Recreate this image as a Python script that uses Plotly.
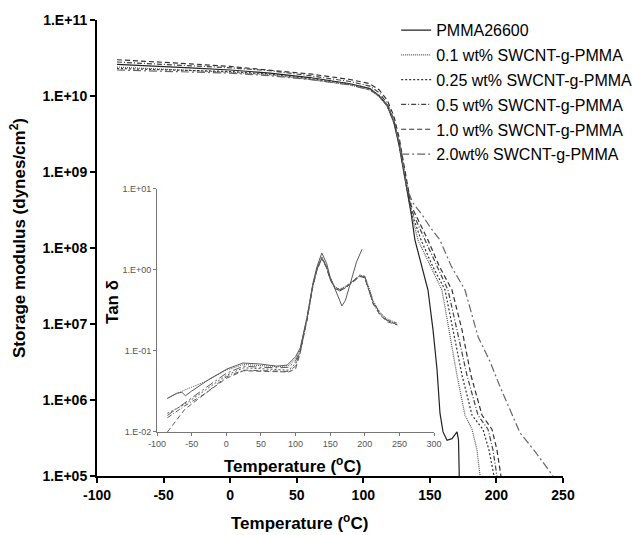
import plotly.graph_objects as go

# ---------------- data: storage modulus (main plot) ----------------
series_names = ["PMMA26600", "0.1 wt% SWCNT-g-PMMA", "0.25 wt% SWCNT-g-PMMA",
                "0.5 wt% SWCNT-g-PMMA", "1.0 wt% SWCNT-g-PMMA", "2.0wt% SWCNT-g-PMMA"]

T_pmma = [-85, -60, -30, 0, 30, 60, 90, 105, 112, 118, 123, 127, 130, 133, 136, 138.8, 143, 148.6,
          152.4, 155.4, 157.6, 159.9, 162.9, 166.6, 170.4, 171.5, 172.0, 172.3]
E_pmma = [2.6e10, 2.5e10, 2.35e10, 2.2e10, 2.0e10, 1.75e10, 1.45e10, 1.25e10, 1.0e10, 7.5e9, 4.5e9,
          2.2e9, 1.1e9, 5.5e8, 2.8e8, 1.27e8, 6.5e7, 2.8e7, 8.3e6, 2.5e6, 6.7e5, 3.8e5, 2.95e5,
          3.1e5, 3.8e5, 3.0e5, 1.2e5, 5e4]

T_01 = [-85, -60, -30, 0, 30, 60, 90, 105, 112, 118, 123, 127, 130, 133, 136, 141.1, 150, 159.1,
        164.4, 170.4, 176.4, 181.7, 185.4, 187.7]
E_01 = [2.4e10, 2.3e10, 2.2e10, 2.05e10, 1.9e10, 1.65e10, 1.4e10, 1.2e10, 9.8e9, 7.3e9, 4.4e9,
        2.2e9, 1.1e9, 5.5e8, 2.9e8, 1.27e8, 6.0e7, 2.8e7, 8.3e6, 2.1e6, 6.3e5, 4.1e5, 2.2e5, 1e5]

T_025 = [-85, -60, -30, 0, 30, 60, 90, 105, 112, 118, 123, 127, 130, 133, 136, 143.4, 152, 161.4,
         167.4, 174.2, 181.7, 189.9, 194.4, 198.2]
E_025 = [2.3e10, 2.25e10, 2.15e10, 2.1e10, 1.95e10, 1.7e10, 1.45e10, 1.25e10, 1.0e10, 7.6e9, 4.6e9,
         2.3e9, 1.15e9, 5.8e8, 3.0e8, 1.27e8, 5.8e7, 2.8e7, 8.3e6, 2.1e6, 6.3e5, 4.1e5, 2.2e5, 1e5]

T_05 = [-85, -60, -30, 0, 30, 60, 90, 105, 112, 118, 123, 127, 130, 133, 136, 146.4, 155, 163.6,
        170.4, 177.9, 186.2, 193.7, 197.4, 200.4]
E_05 = [2.8e10, 2.65e10, 2.5e10, 2.35e10, 2.15e10, 1.85e10, 1.55e10, 1.35e10, 1.1e10, 8.0e9, 4.9e9,
        2.5e9, 1.25e9, 6.2e8, 3.2e8, 1.27e8, 5.8e7, 2.8e7, 8.3e6, 2.1e6, 6.3e5, 4.1e5, 2.2e5, 1e5]

T_10 = [-85, -60, -30, 0, 30, 60, 90, 105, 112, 118, 123, 127, 130, 133, 136, 148.6, 157, 166.6,
        174.2, 180.9, 189.2, 196.7, 200.4, 203.4]
E_10 = [3.0e10, 2.85e10, 2.65e10, 2.45e10, 2.2e10, 1.95e10, 1.65e10, 1.45e10, 1.2e10, 8.8e9, 5.4e9,
        2.8e9, 1.4e9, 7.0e8, 3.6e8, 1.27e8, 5.8e7, 2.8e7, 8.3e6, 2.1e6, 6.3e5, 4.1e5, 2.2e5, 1e5]

T_20 = [-85, -60, -30, 0, 30, 60, 90, 105, 112, 118, 123, 127, 130, 133, 137, 145, 150, 157.6, 166,
        176.4, 186.2, 195.2, 202.7, 210.2, 217.7, 229, 236.5, 242.5]
E_20 = [2.2e10, 2.15e10, 2.1e10, 2.0e10, 1.85e10, 1.65e10, 1.4e10, 1.2e10, 1.0e10, 7.6e9, 4.7e9,
        2.4e9, 1.2e9, 6.0e8, 4.0e8, 2.6e8, 1.9e8, 1.27e8, 5.8e7, 2.8e7, 6.8e6, 3.2e6, 1.5e6, 7.4e5,
        3.7e5, 2.1e5, 1.4e5, 1e5]

# ---------------- data: tan delta (inset) ----------------
Ti_pmma = [-85, -72, -64, -59, -50, -26, 1, 24, 49, 73, 88, 100, 107, 117, 125, 131, 138, 145, 150,
           158, 163, 167, 172, 180, 188, 196]
tan_pmma = [0.026, 0.030, 0.031, 0.028, 0.032, 0.044, 0.060, 0.071, 0.069, 0.065, 0.067, 0.085, 0.11,
            0.27, 0.68, 1.1, 1.62, 1.2, 0.82, 0.55, 0.42, 0.36, 0.42, 0.75, 1.25, 1.8]

Ti_cnt = [-85, -60, -30, 0, 25, 50, 75, 90, 100, 106.5, 116.6, 125, 131, 138, 145, 150, 157, 164,
          172, 182, 193, 200, 208, 212, 222, 232, 247]
tan_01 = [0.026, 0.033, 0.042, 0.058, 0.068, 0.066, 0.064, 0.066, 0.080, 0.105, 0.26, 0.66, 1.05,
          1.45, 1.10, 0.80, 0.62, 0.58, 0.63, 0.72, 0.86, 0.83, 0.55, 0.42, 0.30, 0.25, 0.22]
tan_025 = [0.017, 0.022, 0.033, 0.050, 0.062, 0.060, 0.058, 0.058, 0.070, 0.098, 0.25, 0.64, 1.02,
           1.42, 1.08, 0.78, 0.60, 0.56, 0.60, 0.70, 0.84, 0.80, 0.52, 0.40, 0.29, 0.24, 0.21]
tan_05 = [0.015, 0.021, 0.030, 0.048, 0.058, 0.057, 0.056, 0.056, 0.065, 0.095, 0.24, 0.63, 1.00,
          1.40, 1.06, 0.77, 0.60, 0.55, 0.61, 0.71, 0.85, 0.82, 0.50, 0.38, 0.28, 0.24, 0.21]
tan_10 = [0.010, 0.019, 0.030, 0.046, 0.057, 0.056, 0.055, 0.055, 0.060, 0.092, 0.24, 0.62, 1.00,
          1.38, 1.05, 0.76, 0.59, 0.55, 0.60, 0.70, 0.83, 0.80, 0.51, 0.39, 0.28, 0.23, 0.21]
tan_20 = [0.016, 0.023, 0.035, 0.053, 0.065, 0.063, 0.062, 0.063, 0.075, 0.100, 0.25, 0.65, 1.03,
          1.43, 1.09, 0.79, 0.61, 0.57, 0.62, 0.72, 0.87, 0.84, 0.53, 0.41, 0.29, 0.24, 0.22]

# ---------------- axis ticks ----------------
main_x_ticks = [-100, -50, 0, 50, 100, 150, 200, 250]
main_x_text = ["-100", "-50", "0", "50", "100", "150", "200", "250"]
main_y_ticks = [1e5, 1e6, 1e7, 1e8, 1e9, 1e10, 1e11]
main_y_text = ["1.E+05", "1.E+06", "1.E+07", "1.E+08", "1.E+09", "1.E+10", "1.E+11"]
inset_x_ticks = [-100, -50, 0, 50, 100, 150, 200, 250, 300]
inset_x_text = ["-100", "-50", "0", "50", "100", "150", "200", "250", "300"]
inset_y_ticks = [0.01, 0.1, 1, 10]
inset_y_text = ["1.E-02", "1.E-01", "1.E+00", "1.E+01"]

FONT = "Liberation Sans, Arial, sans-serif"

main_T = [T_pmma, T_01, T_025, T_05, T_10, T_20]
main_E = [E_pmma, E_01, E_025, E_05, E_10, E_20]
inset_T = [Ti_pmma, Ti_cnt, Ti_cnt, Ti_cnt, Ti_cnt, Ti_cnt]
inset_tan = [tan_pmma, tan_01, tan_025, tan_05, tan_10, tan_20]

colors = ["#222222", "#555555", "#333333", "#444444", "#333333", "#666666"]
dashes = ["solid", "1px,1px", "2px,2px", "5px,2px,1px,2px", "5px,3px", "8px,3px,2px,3px"]

fig = go.Figure()
for i, name in enumerate(series_names):
    fig.add_trace(go.Scatter(
        x=main_T[i], y=main_E[i], mode="lines", name=name, legendgroup=name,
        line=dict(color=colors[i], width=1.2, dash=dashes[i]),
        xaxis="x", yaxis="y"))
for i, name in enumerate(series_names):
    fig.add_trace(go.Scatter(
        x=inset_T[i], y=inset_tan[i], mode="lines", name=name, showlegend=False,
        line=dict(color="#5a5a5a", width=1, dash=dashes[i]),
        xaxis="x2", yaxis="y2"))

fig.update_layout(
    width=632, height=535,
    margin=dict(l=97, r=69, t=20, b=59, autoexpand=False),
    paper_bgcolor="white", plot_bgcolor="rgba(0,0,0,0)",
    font=dict(family=FONT, color="black"),
    xaxis=dict(range=[-100, 250], tickvals=main_x_ticks, ticktext=main_x_text,
               showgrid=False, zeroline=False,
               showline=True, linecolor="black", linewidth=2, ticks="outside", ticklen=5,
               tickwidth=2, tickcolor="black",
               tickfont=dict(family=FONT, size=14, color="black", weight="bold")),
    yaxis=dict(type="log", range=[5, 11], tickvals=main_y_ticks, ticktext=main_y_text,
               showgrid=False, zeroline=False, showline=True, linecolor="black", linewidth=2,
               ticks="outside", ticklen=5, tickwidth=2, tickcolor="black",
               tickfont=dict(family=FONT, size=14, color="black", weight="bold")),
    xaxis2=dict(domain=[0.1288, 0.7232], anchor="y2", range=[-100, 300], tickvals=inset_x_ticks,
                ticktext=inset_x_text,
                showgrid=False, zeroline=False, showline=True, linecolor="#777777", linewidth=1,
                ticks="outside", ticklen=3, tickcolor="#777777",
                tickfont=dict(family=FONT, size=9, color="#555555")),
    yaxis2=dict(domain=[0.0965, 0.6294], anchor="x2", type="log", range=[-2, 1],
                tickvals=inset_y_ticks, ticktext=inset_y_text,
                showgrid=False, zeroline=False, showline=True, linecolor="#777777", linewidth=1,
                ticks="outside", ticklen=3, tickcolor="#777777",
                tickfont=dict(family=FONT, size=9, color="#555555")),
    legend=dict(x=0.642, y=1.015, xanchor="left", yanchor="top", bgcolor="rgba(0,0,0,0)",
                font=dict(family=FONT, size=16, color="black"), tracegroupgap=1,
                itemwidth=30),
    showlegend=True,
)

annotations = [
    dict(text="Temperature (<sup>o</sup>C)", x=0.4356, y=-0.1009, xref="paper", yref="paper",
         showarrow=False, font=dict(family=FONT, size=17, color="black", weight="bold"),
         xanchor="center", yanchor="middle"),
    dict(text="Storage modulus (dynes/cm<sup>2</sup>)", x=-0.1695, y=0.522, xref="paper",
         yref="paper", showarrow=False, textangle=-90,
         font=dict(family=FONT, size=17, color="black", weight="bold"),
         xanchor="center", yanchor="middle"),
    dict(text="Tan δ", x=0.0343, y=0.3816, xref="paper", yref="paper", showarrow=False,
         textangle=-90, font=dict(family=FONT, size=17, color="black", weight="bold"),
         xanchor="center", yanchor="middle"),
    dict(text="Temperature (<sup>o</sup>C)", x=0.4185, y=0.0241, xref="paper", yref="paper",
         showarrow=False, font=dict(family=FONT, size=17, color="black", weight="bold"),
         xanchor="center", yanchor="middle"),
]
fig.update_layout(annotations=annotations)

fig.write_html("out.html")
